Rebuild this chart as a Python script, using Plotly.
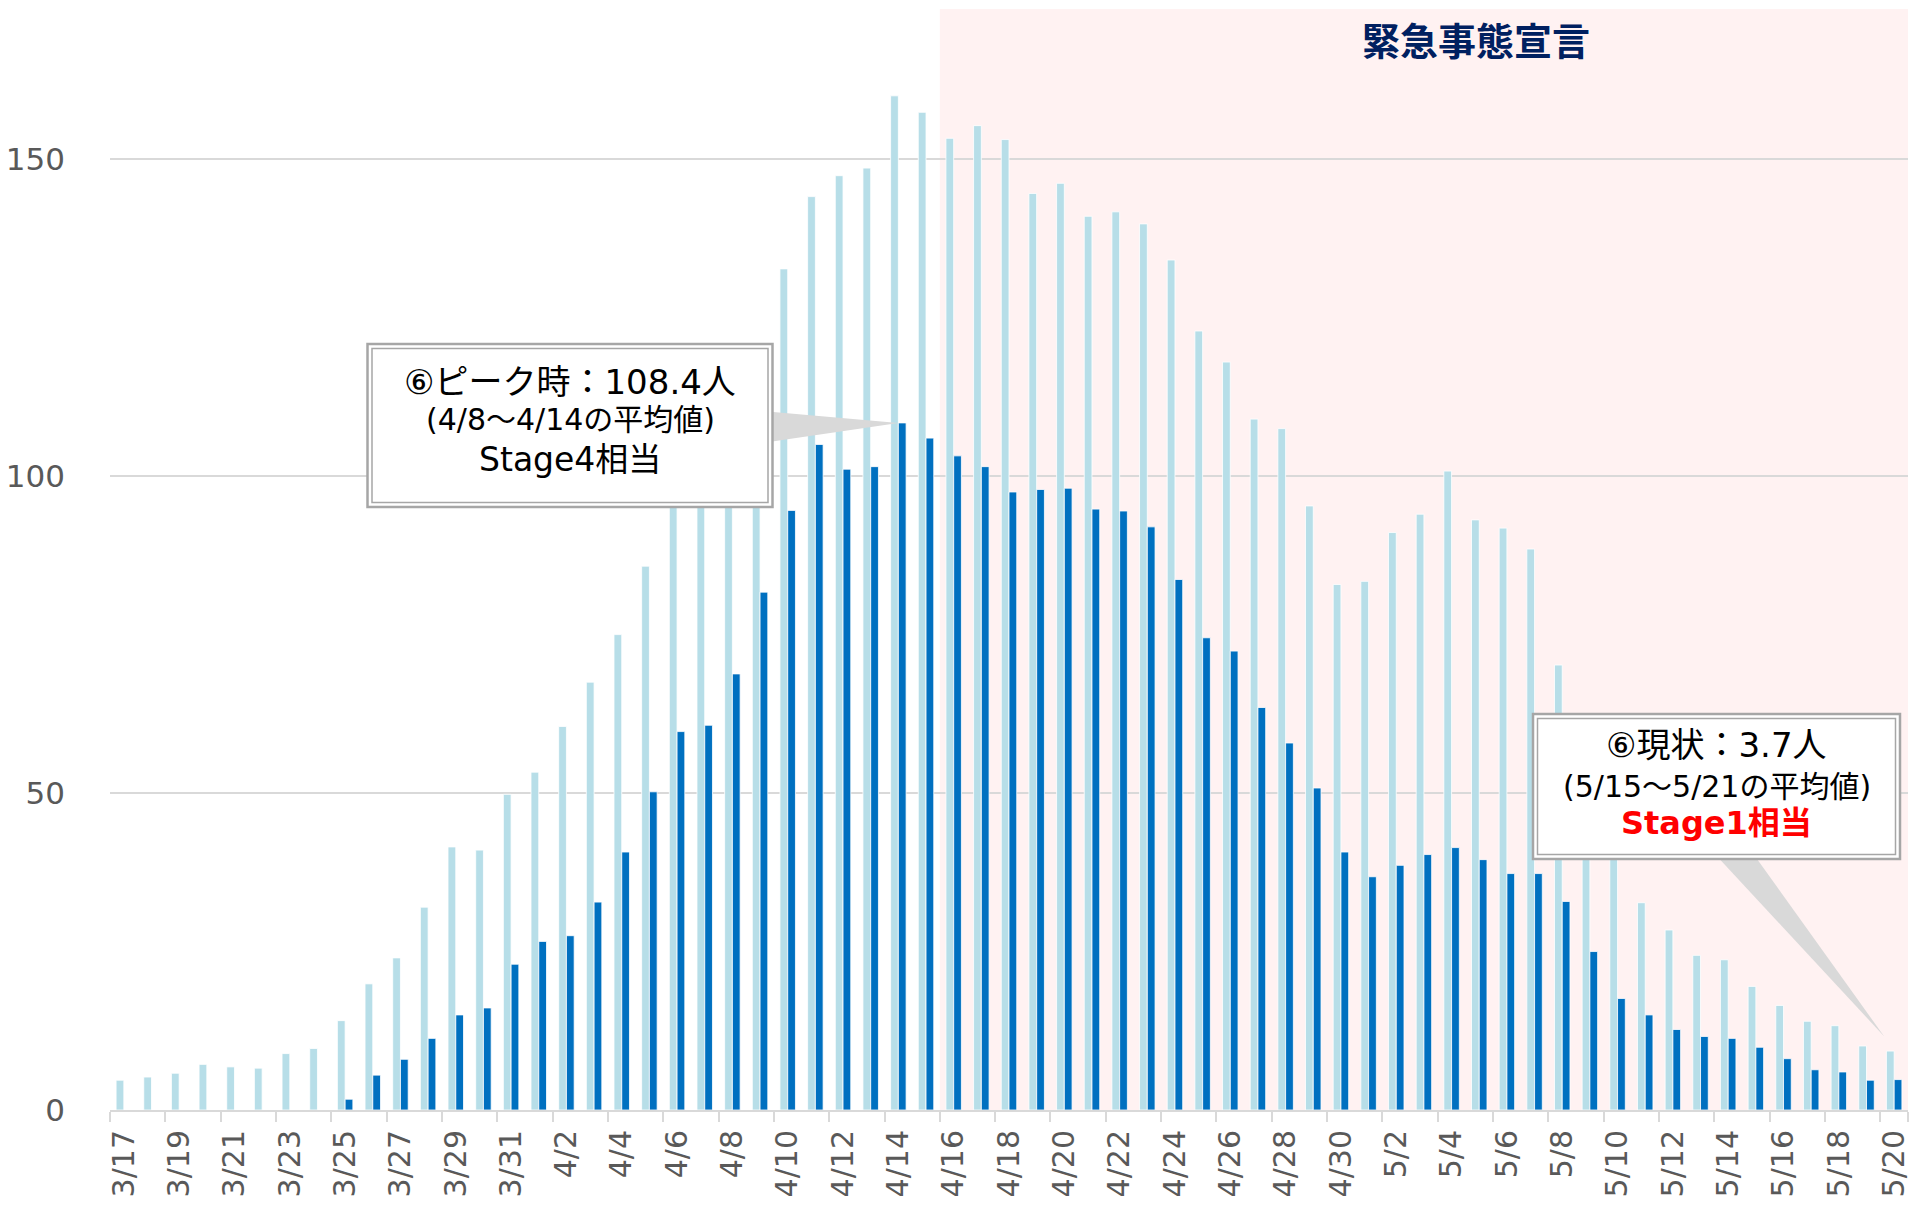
import plotly.graph_objects as go

# ---------------- data ----------------
dates = [
    "3/17", "3/18", "3/19", "3/20", "3/21", "3/22", "3/23", "3/24", "3/25", "3/26",
    "3/27", "3/28", "3/29", "3/30", "3/31", "4/1", "4/2", "4/3", "4/4", "4/5",
    "4/6", "4/7", "4/8", "4/9", "4/10", "4/11", "4/12", "4/13", "4/14", "4/15",
    "4/16", "4/17", "4/18", "4/19", "4/20", "4/21", "4/22", "4/23", "4/24", "4/25",
    "4/26", "4/27", "4/28", "4/29", "4/30", "5/1", "5/2", "5/3", "5/4", "5/5",
    "5/6", "5/7", "5/8", "5/9", "5/10", "5/11", "5/12", "5/13", "5/14", "5/15",
    "5/16", "5/17", "5/18", "5/19", "5/20",
]

light_values = [
    4.7, 5.2, 5.8, 7.2, 6.8, 6.6, 8.9, 9.7, 14.1, 19.9,
    24.0, 32.0, 41.5, 41.0, 49.8, 53.3, 60.5, 67.5, 75.0, 85.8,
    99.0, 104.0, 110.0, 117.0, 132.7, 144.1, 147.4, 148.6, 160.0, 157.4,
    153.3, 155.3, 153.1, 144.6, 146.2, 141.0, 141.7, 139.8, 134.1, 122.9,
    118.0, 109.0, 107.5, 95.3, 82.9, 83.4, 91.1, 94.0, 100.8, 93.1,
    91.8, 88.5, 70.2, 55.0, 43.0, 32.7, 28.4, 24.4, 23.7, 19.5,
    16.5, 14.0, 13.3, 10.1, 9.3,
]

dark_values = [
    None, None, None, None, None, None, None, None, 1.7, 5.5,
    8.0, 11.3, 15.0, 16.1, 23.0, 26.6, 27.5, 32.8, 40.7, 50.2,
    59.7, 60.7, 68.8, 81.7, 94.6, 105.0, 101.1, 101.5, 108.4, 106.0,
    103.2, 101.5, 97.5, 97.9, 98.1, 94.8, 94.5, 92.0, 83.7, 74.5,
    72.4, 63.5, 57.9, 50.8, 40.7, 36.8, 38.6, 40.3, 41.4, 39.5,
    37.3, 37.3, 32.9, 25.0, 17.6, 15.0, 12.7, 11.6, 11.3, 9.9,
    8.1, 6.35, 6.0, 4.7, 4.8,
]

y_tick_values = [0, 50, 100, 150]
x_tick_labels = dates[::2]

declaration_start = "4/16"
declaration_label = "緊急事態宣言"
peak_date = "4/14"
current_date = "5/20"

peak_lines = ["⑥ピーク時：108.4人", "(4/8～4/14の平均値)", "Stage4相当"]
current_lines = ["⑥現状：3.7人", "(5/15～5/21の平均値)", "Stage1相当"]

# ---------------- styling ----------------
LIGHT = "#B7DEE8"
DARK = "#0070C0"
PINK = "#FFF2F2"
GRID = "#D9D9D9"
TICK_TXT = "#595959"
NAVY = "#002060"
BOX_LINE = "#A6A6A6"
WEDGE = "#D9D9D9"
FONT = "DejaVu Sans, Noto Sans CJK JP, sans-serif"
CJK = "Noto Sans CJK JP, sans-serif"

W, H = 1920, 1210
ML, MR, MT, MB = 110, 12, 9, 100
PW, PH = W - ML - MR, H - MT - MB
Y_MAX = 173.7
n = len(dates)


def px2p(px, py):
    return (px - ML) / PW, (H - MB - py) / PH


def d2p(i, v):
    return (i + 0.5) / n, v / Y_MAX


fig = go.Figure()
fig.add_trace(go.Bar(x=dates, y=light_values, name="light",
                     marker=dict(color=LIGHT, line=dict(color="white", width=0.8))))
fig.add_trace(go.Bar(x=dates, y=dark_values, name="dark",
                     marker=dict(color=DARK, line=dict(color="white", width=0.8))))

shapes = []
annotations = []

# emergency declaration background
shapes.append(dict(type="rect", xref="x", yref="paper",
                   x0=dates.index(declaration_start) - 0.5, x1=n - 0.5, y0=0, y1=1,
                   fillcolor=PINK, line=dict(width=0), layer="below"))

tx, ty = px2p(1476, 39)
annotations.append(dict(xref="paper", yref="paper", x=tx, y=ty, showarrow=False,
                        xanchor="center", yanchor="middle",
                        text="<b>" + declaration_label + "</b>",
                        font=dict(family=CJK, size=38, color=NAVY)))


def callout(box, tip, base, lines, line_y, line_sizes, line_colors, bold3=False):
    x0, y0, x1, y1 = box
    (bx1, by1), (bx2, by2) = px2p(*base[0]), px2p(*base[1])
    tpx, tpy = tip
    shapes.append(dict(type="path", xref="paper", yref="paper",
                       path=f"M {bx1},{by1} L {tpx},{tpy} L {bx2},{by2} Z",
                       fillcolor=WEDGE, line=dict(width=0), layer="above"))
    px0, py0 = px2p(x0, y1)
    px1, py1 = px2p(x1, y0)
    shapes.append(dict(type="rect", xref="paper", yref="paper", x0=px0, y0=py0, x1=px1, y1=py1,
                       fillcolor="white", line=dict(color=BOX_LINE, width=2.5), layer="above"))
    ix0, iy0 = px2p(x0 + 4.5, y1 - 4.5)
    ix1, iy1 = px2p(x1 - 4.5, y0 + 4.5)
    shapes.append(dict(type="rect", xref="paper", yref="paper", x0=ix0, y0=iy0, x1=ix1, y1=iy1,
                       fillcolor="rgba(0,0,0,0)", line=dict(color=BOX_LINE, width=1.5), layer="above"))
    cx = (x0 + x1) / 2
    for k, (txt, ly, sz, col) in enumerate(zip(lines, line_y, line_sizes, line_colors)):
        ax_, ay_ = px2p(cx, ly)
        if k == 2 and bold3:
            txt = "<b>" + txt + "</b>"
        annotations.append(dict(xref="paper", yref="paper", x=ax_, y=ay_, showarrow=False,
                                xanchor="center", yanchor="middle", text=txt,
                                font=dict(family=FONT, size=sz, color=col)))


pi = dates.index(peak_date)
callout(box=(367.5, 344, 772.5, 507),
        tip=d2p(pi, dark_values[pi]),
        base=((762, 411), (762, 443)),
        lines=peak_lines, line_y=(382, 420, 459),
        line_sizes=(34, 30, 33), line_colors=("black", "black", "black"))

ci = dates.index(current_date)
tip2 = d2p(ci - 0.36, light_values[ci] + 2.3)
callout(box=(1533, 714, 1900, 859),
        tip=tip2,
        base=((1713, 852), (1752, 852)),
        lines=current_lines, line_y=(745, 786, 823),
        line_sizes=(34, 30, 32), line_colors=("black", "black", "#FF0000"), bold3=True)

fig.update_layout(
    width=W, height=H,
    margin=dict(l=ML, r=MR, t=MT, b=MB, pad=0),
    paper_bgcolor="white", plot_bgcolor="rgba(0,0,0,0)",
    barmode="group", bargap=0.44, bargroupgap=0,
    showlegend=False,
    shapes=shapes, annotations=annotations,
    font=dict(family=FONT),
)
fig.update_xaxes(
    type="category", range=[-0.5, n - 0.5], automargin=False,
    tickmode="array", tickvals=x_tick_labels, ticktext=x_tick_labels,
    tickson="boundaries", ticks="outside", ticklen=10, tickwidth=2, tickcolor=GRID,
    tickangle=-90, tickfont=dict(family=FONT, size=30, color=TICK_TXT),
    ticklabelstandoff=6,
    showline=True, linecolor=GRID, linewidth=2, showgrid=False,
)
fig.update_yaxes(
    range=[0, Y_MAX], automargin=False,
    tickmode="array", tickvals=y_tick_values,
    showgrid=True, gridcolor=GRID, gridwidth=1.5, zeroline=False,
    ticks="", ticklabelstandoff=44,
    tickfont=dict(family=FONT, size=31, color=TICK_TXT),
    showline=False,
)

fig.write_html(
    "out.html",
    config={"displayModeBar": False},
    post_script="document.body.style.margin='0';document.body.style.overflow='hidden';",
)
